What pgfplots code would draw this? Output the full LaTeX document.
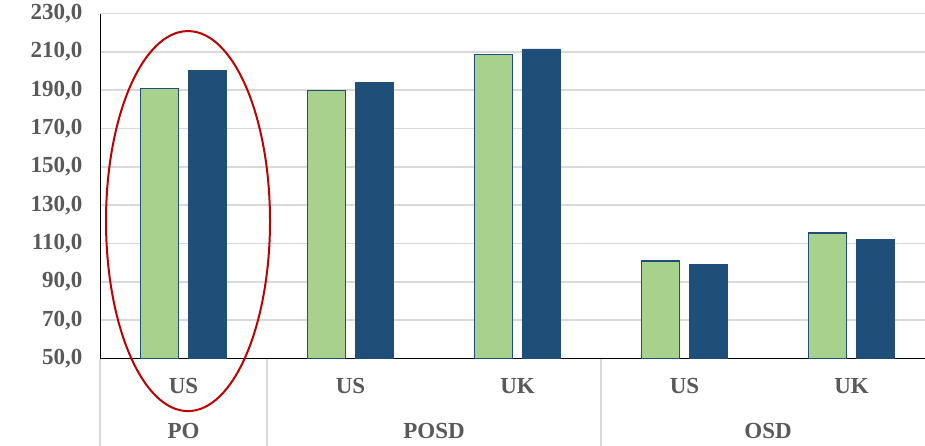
\documentclass[border=0pt]{standalone}
\usepackage{fontspec}
\setmainfont{Liberation Serif}
\usepackage{pgfplots}
\pgfplotsset{compat=1.18}
\definecolor{cgreen}{HTML}{A9D18E}
\definecolor{cblue}{HTML}{1F4E79}
\definecolor{cgrid}{HTML}{D9D9D9}
\definecolor{ctext}{HTML}{595959}
\definecolor{cred}{HTML}{C00000}
\tikzset{lab/.style={font=\fontsize{23}{26}\selectfont\bfseries, text=ctext}}
\begin{document}
\begin{tikzpicture}
\path[use as bounding box, clip] (-100pt,-86.5pt) rectangle (825pt,358.5pt);
\begin{axis}[
  at={(0,0)}, anchor=south west,
  scale only axis, width=825pt, height=345pt,
  xmin=-0.5, xmax=4.44, ymin=50, ymax=230,
  axis lines=none,
  ytick={50,70,...,230},
  xtick=\empty,
  ymajorgrids, grid style={cgrid, line width=1.8pt},
  major tick length=0pt,
  yticklabel style={font=\fontsize{23}{26}\selectfont\bfseries, text=ctext, anchor=east, xshift=-14pt,
    /pgf/number format/fixed, /pgf/number format/fixed zerofill, /pgf/number format/precision=1,
    /pgf/number format/use comma, /pgf/number format/assume math mode=true},
  ybar, bar width=38pt,
  clip=false,
  hide axis=false,
]
\addplot[fill=cgreen, draw=cblue, line width=1.5pt, bar shift=-24pt] coordinates {(0,190.8) (1,189.8) (2,208.7) (3,100.9) (4,115.6)};
\addplot[fill=cblue, draw=cblue, line width=0.6pt, bar shift=24pt] coordinates {(0,200.4) (1,194.1) (2,211.5) (3,98.9) (4,112.3)};
\node[lab] at (axis cs:0,50) [yshift=-27.5pt] {US};
\node[lab] at (axis cs:1,50) [yshift=-27.5pt] {US};
\node[lab] at (axis cs:2,50) [yshift=-27.5pt] {UK};
\node[lab] at (axis cs:3,50) [yshift=-27.5pt] {US};
\node[lab] at (axis cs:4,50) [yshift=-27.5pt] {UK};
\node[lab] at (axis cs:0,50) [yshift=-72.5pt] {PO};
\node[lab] at (axis cs:1.5,50) [yshift=-72.5pt] {POSD};
\node[lab] at (axis cs:3.5,50) [yshift=-72.5pt] {OSD};
\draw[cgrid, line width=1.8pt] (axis cs:-0.5,50) -- ++(0pt,-90pt);
\draw[cgrid, line width=1.8pt] (axis cs:0.5,50) -- ++(0pt,-90pt);
\draw[cgrid, line width=1.8pt] (axis cs:2.5,50) -- ++(0pt,-90pt);
\draw[cred, line width=2pt] (axis cs:0.027,121.7) ellipse [x radius=82pt, y radius=190pt];
\end{axis}
\end{tikzpicture}
\end{document}
